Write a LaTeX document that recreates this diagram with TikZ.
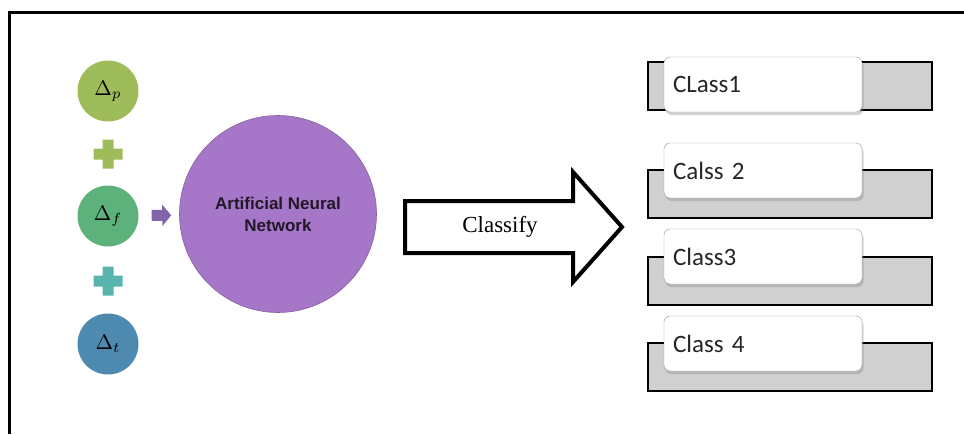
\documentclass[tikz,border=0pt]{standalone}
\usepackage{graphicx}
\usepackage{fontspec}
\newfontfamily\calibrifont{Carlito}
\newfontfamily\arialfont{Liberation Sans}
\newfontfamily\timesfont{Liberation Serif}
\usetikzlibrary{shadows,arrows.meta}

\definecolor{pgreen}{RGB}{158,189,90}
\definecolor{fgreen}{RGB}{92,178,122}
\definecolor{tblue}{RGB}{78,138,175}
\definecolor{plusteal}{RGB}{88,180,172}
\definecolor{annpurple}{RGB}{166,118,200}
\definecolor{arrowpurple}{RGB}{130,100,170}
\definecolor{boxgray}{RGB}{208,208,208}

\newcommand{\dlabel}[1]{\scalebox{2.1}{$\Delta_{#1}$}}

\tikzset{
  delta/.style={circle,minimum size=61pt,inner sep=0pt},
  backbox/.style={draw=black,line width=2pt,fill=boxgray,minimum width=284pt,minimum height=48pt,inner sep=0pt},
  classbox/.style={draw=black!40,fill=white,rounded corners=6pt,minimum width=198pt,minimum height=55pt,
    inner sep=0pt,text width=180pt,align=left,text=black!85,font=\calibrifont\fontsize{25}{25}\selectfont,
    drop shadow={shadow xshift=1.5pt,shadow yshift=-3pt,opacity=.35}},
}

\begin{document}
\begin{tikzpicture}[x=1pt,y=-1pt]
\useasboundingbox (0,0) rectangle (964,434);
\draw[line width=2.7pt] (9.5,434) -- (9.5,12.5) -- (964,12.5);

% inputs
\node[delta,fill=pgreen] (dp) at (108,91) {\dlabel{p}};
\node[delta,fill=fgreen] (df) at (108,216) {\dlabel{f}};
\node[delta,fill=tblue] (dt) at (108,344) {\dlabel{t}};
\fill[pgreen] (93.5,148.5) rectangle (122.5,159.5) (102.5,139.5) rectangle (113.5,168.5);
\fill[plusteal] (93.5,275.5) rectangle (122.5,286.5) (102.5,266.5) rectangle (113.5,295.5);

\node[circle,fill=annpurple,draw=annpurple!80!black,line width=0.6pt,minimum size=197pt,inner sep=0pt,
  align=center,text=black!80!annpurple,font=\arialfont\bfseries\fontsize{17}{22}\selectfont]
  (ann) at (278,214) {Artificial Neural\\Network};
\draw[arrowpurple,line width=11pt,-{Triangle[width=21pt,length=9pt]},shorten <=13pt,shorten >=8pt] (df) -- (ann);

% classify arrow
\draw[line width=4pt,miter limit=10] (405,201) -- (573,201) -- (573,172) -- (622,227)
  -- (573,282) -- (573,253) -- (405,253) -- cycle;
\node[font=\timesfont\fontsize{23}{23}\selectfont] (cls) at (500,227) {Classify};

% classes
\node[backbox] (b1) at (790,86) {};
\node[backbox] (b2) at (790,194) {};
\node[backbox] (b3) at (790,280.5) {};
\node[backbox] (b4) at (790,367) {};
\node[classbox] (c1) at (763,84.5) {CLass1};
\node[classbox] (c2) at (763,170.5) {Calss 2};
\node[classbox] (c3) at (763,256.5) {Class3};
\node[classbox] (c4) at (763,343.5) {Class 4};
\end{tikzpicture}
\end{document}
